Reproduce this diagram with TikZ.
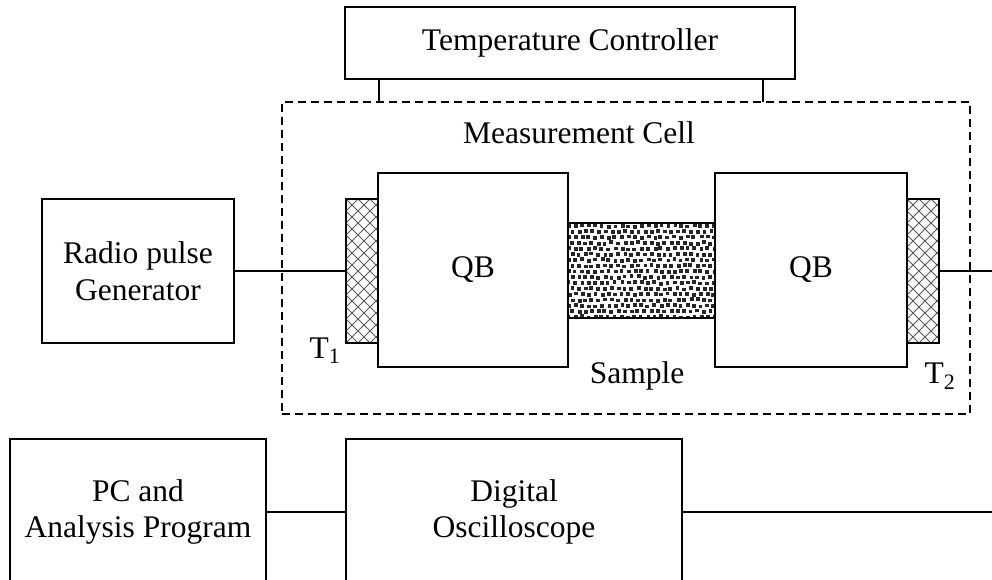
\documentclass[tikz,border=0pt]{standalone}
\usepackage{fontspec}
\setmainfont{Liberation Serif}
\begin{document}
\begin{tikzpicture}[x=1pt,y=-1pt,
  every node/.style={inner sep=0pt,outer sep=0pt},
  txt/.style={font=\fontsize{31.5}{36.5}\selectfont,align=center},
  box/.style={draw,line width=1.4pt,txt,minimum width=#1},
  wire/.style={line width=1.4pt},
  cellbox/.style={draw,line width=1.4pt,dash pattern=on 8pt off 5pt},
  xducer/.style={draw,line width=1.4pt,minimum width=32pt,minimum height=144pt}]
\clip (0,0) rectangle (992,579);
\useasboundingbox (0,0) rectangle (992,579);

% Temperature controller
\node[box=450pt,minimum height=72pt] (tc) at (570,43) {Temperature Controller};
% Measurement cell (dashed)
\node[cellbox,minimum width=688pt,minimum height=312pt] (cell) at (626,258) {};
\node[txt,anchor=base] (mclabel) at (579,143) {Measurement Cell};
\coordinate (legA) at (379,102);
\coordinate (legB) at (763,102);
\draw[wire] (tc.south -| legA) -- (legA);
\draw[wire] (tc.south -| legB) -- (legB);

% Radio pulse generator
\node[box=192pt,minimum height=144pt] (rpg) at (138,271) {Radio pulse\\Generator};

% Quartz buffers
\node[box=190pt,minimum height=194pt] (qb1) at (473,270) {QB};
\node[box=192pt,minimum height=194pt] (qb2) at (811,270) {QB};

% Transducers
\node[xducer] (t1) at (362,271) {};
\node[xducer] (t2) at (923,271) {};
\foreach \t in {t1,t2}{
  \begin{scope}
    \clip (\t.south west) rectangle (\t.north east);
    \foreach \k in {-12,...,14}{
      \draw[gray!70!black,line width=0.8pt] ([xshift=\k*12pt]\t.north west) -- ++(160,160);
      \draw[gray!70!black,line width=0.8pt] ([xshift=\k*12pt]\t.north west) -- ++(-160,160);
    }
  \end{scope}
  \node[xducer] at (\t) {};
}

% Sample
\node[draw,line width=1.4pt,minimum width=147pt,minimum height=95pt] (sample) at (641.5,270.5) {};
\begin{scope}
  \clip (sample.south west) rectangle (sample.north east);
  \pgfmathsetseed{11}
  \foreach \j in {0,...,16}{
    \foreach \i in {0,...,22}{
      \pgfmathsetmacro{\px}{567+\i*6.6+mod(\j,2)*3.3+rand*1.0}
      \pgfmathsetmacro{\py}{224+\j*5.7+rand*0.9}
      \fill[black!85] (\px,\py) rectangle ++(3.8,3.8);
    }
  }
\end{scope}
\node[draw,line width=1.4pt,minimum width=147pt,minimum height=95pt] at (sample) {};

% Labels
\node[txt,anchor=base] (t1lab) at (325,358) {T\textsubscript{1}};
\node[txt,anchor=base] (t2lab) at (940,383) {T\textsubscript{2}};
\node[txt,anchor=base] (samplab) at (637,383) {Sample};

% Wires top
\coordinate (rightA) at (992,271);
\draw[wire] (rpg.east) -- (t1.west);
\draw[wire] (t2.east) -- (rightA);

% Bottom row
\node[box=256pt,minimum height=146pt] (pc) at (138,512) {PC and\\Analysis Program};
\node[box=336pt,minimum height=146pt] (osc) at (514,512) {Digital\\Oscilloscope};
\coordinate (rightB) at (992,512);
\draw[wire] (pc.east) -- (osc.west);
\draw[wire] (osc.east) -- (rightB);
\end{tikzpicture}
\end{document}
